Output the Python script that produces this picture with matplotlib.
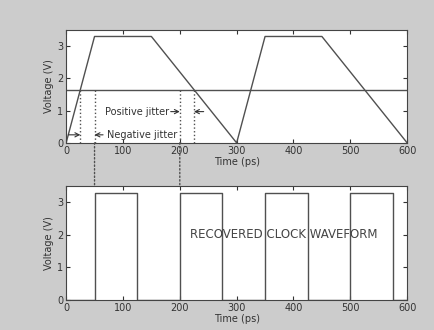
import numpy as np
import matplotlib.pyplot as plt
from matplotlib.patches import ConnectionPatch

# data
t_wave = [0, 50, 150, 300, 350, 450, 600]
v_wave = [0, 3.3, 3.3, 0, 3.3, 3.3, 0]
threshold = 1.65
t_clock = [0, 50, 50, 125, 125, 200, 200, 275, 275, 350, 350, 425, 425, 500, 500, 575, 575, 600]
v_clock = [0, 0, 3.3, 3.3, 0, 0, 3.3, 3.3, 0, 0, 3.3, 3.3, 0, 0, 3.3, 3.3, 0, 0]
xticks = [0, 100, 200, 300, 400, 500, 600]
yticks = [0, 1, 2, 3]

lc = '#505050'
fig = plt.figure(figsize=(4.35, 3.3), dpi=100, facecolor='#cccccc')
ax1 = fig.add_axes([0.152, 0.567, 0.784, 0.342])
ax2 = fig.add_axes([0.152, 0.091, 0.784, 0.345])

for ax in (ax1, ax2):
    ax.set_xlim(0, 600)
    ax.set_ylim(0, 3.5)
    ax.set_xticks(xticks)
    ax.set_yticks(yticks)
    ax.tick_params(direction='in', top=True, right=True, labelsize=7,
                   length=3, colors='#333333', pad=2)
    ax.set_xlabel('Time (ps)', fontsize=7, labelpad=1, color='#333333')
    ax.set_ylabel('Voltage (V)', fontsize=7, labelpad=2, color='#333333')
    for s in ax.spines.values():
        s.set_color('#444444')

# top: data waveform with threshold
ax1.plot(t_wave, v_wave, color=lc, lw=1)
ax1.axhline(threshold, color=lc, lw=1)
for xd in [25, 50, 200, 225]:
    ax1.plot([xd, xd], [0, threshold], ls=':', color=lc, lw=1)

arr = dict(arrowstyle='->,head_length=0.3,head_width=0.15', color='#333333',
           lw=0.8, shrinkA=0, shrinkB=0)
ax1.annotate('', xy=(25, 0.25), xytext=(4, 0.25), arrowprops=arr)
ax1.annotate('', xy=(50, 0.25), xytext=(65, 0.25), arrowprops=arr)
ax1.text(72, 0.25, 'Negative jitter', fontsize=7, va='center', ha='left', color='#333333')
ax1.annotate('', xy=(200, 0.97), xytext=(184, 0.97), arrowprops=arr)
ax1.annotate('', xy=(225, 0.97), xytext=(242, 0.97), arrowprops=arr)
ax1.text(181, 0.97, 'Positive jitter', fontsize=7, va='center', ha='right', color='#333333')

# bottom: recovered clock
ax2.plot(t_clock, v_clock, color=lc, lw=1)
ax2.text(218, 2.0, 'RECOVERED CLOCK WAVEFORM', fontsize=8.5, va='center', ha='left',
         color='#444444')

# dotted lines linking the two plots
for xd in [50, 200]:
    con = ConnectionPatch(xyA=(xd, 0), coordsA=ax1.transData,
                          xyB=(xd, 3.5), coordsB=ax2.transData,
                          ls=':', color=lc, lw=1)
    fig.add_artist(con)

fig.savefig('out.png', dpi=100, facecolor=fig.get_facecolor())
